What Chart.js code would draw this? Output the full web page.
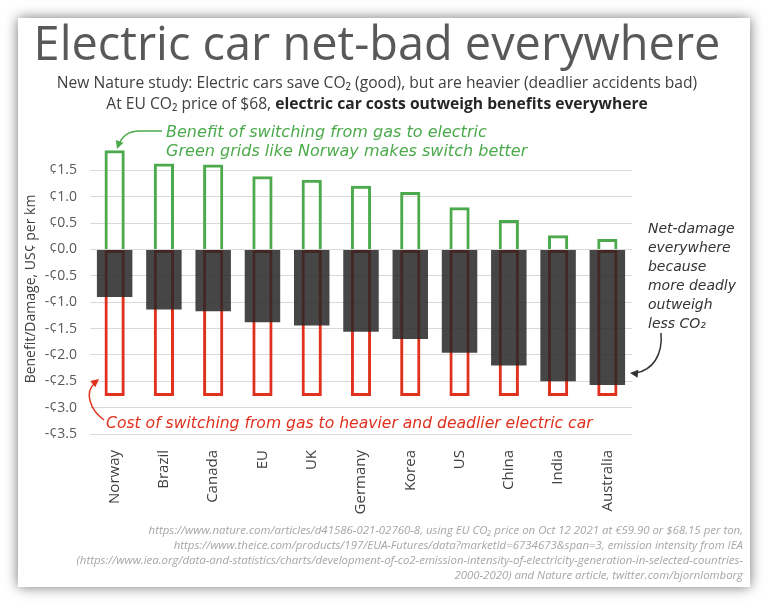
<!DOCTYPE html>
<html>
<head>
<meta charset="utf-8">
<script src="https://cdn.jsdelivr.net/npm/chart.js@4.4.1/dist/chart.umd.min.js"></script>
<style>
  html, body { margin: 0; padding: 0; background: #fff; }
</style>
</head>
<body>
<canvas id="chart" width="768" height="603"></canvas>
<script>
  // values, US cents per km
  var countries = ['Norway', 'Brazil', 'Canada', 'EU', 'UK', 'Germany', 'Korea', 'US', 'China', 'India', 'Australia'];
  var benefit = [1.88, 1.63, 1.61, 1.39, 1.32, 1.21, 1.09, 0.80, 0.56, 0.27, 0.20];
  var cost = [-2.78, -2.78, -2.78, -2.78, -2.78, -2.78, -2.78, -2.78, -2.78, -2.78, -2.78];
  var net = [-0.90, -1.14, -1.17, -1.38, -1.44, -1.56, -1.70, -1.96, -2.20, -2.50, -2.57];
  var yTickValues = [1.5, 1.0, 0.5, 0.0, -0.5, -1.0, -1.5, -2.0, -2.5, -3.0, -3.5];

  var titleText = 'Electric car net-bad everywhere';
  var subLine1 = 'New Nature study: Electric cars save CO\u2082 (good), but are heavier (deadlier accidents bad)';
  var subLine2a = 'At EU CO\u2082 price of $68, ';
  var subLine2b = 'electric car costs outweigh benefits everywhere';
  var greenNote = ['Benefit of switching from gas to electric', 'Green grids like Norway makes switch better'];
  var redNote = 'Cost of switching from gas to heavier and deadlier electric car';
  var netNote = ['Net-damage', 'everywhere', 'because', 'more deadly', 'outweigh', 'less CO\u2082'];
  var footer = [
    'https://www.nature.com/articles/d41586-021-02760-8, using EU CO\u2082 price on Oct 12 2021 at \u20ac59.90 or $68.15 per ton,',
    'https://www.theice.com/products/197/EUA-Futures/data?marketId=6734673&span=3, emission intensity from IEA',
    '(https://www.iea.org/data-and-statistics/charts/development-of-co2-emission-intensity-of-electricity-generation-in-selected-countries-',
    '2000-2020) and Nature article, twitter.com/bjornlomborg'
  ];

  var SANS = '"Open Sans", sans-serif';
  var HAND = '"DejaVu Sans", sans-serif';
  var GREEN = '#4caa4c';
  var RED = '#e0301e';

  function fitSize(ctx, text, style, family, width) {
    ctx.font = style + ' 100px ' + family;
    return 100 * width / ctx.measureText(text).width;
  }

  function arrowHead(ctx, x, y, angle, color) {
    ctx.save();
    ctx.translate(x, y);
    ctx.rotate(angle);
    ctx.beginPath();
    ctx.moveTo(0, 0);
    ctx.lineTo(-8, -4);
    ctx.lineTo(-8, 4);
    ctx.closePath();
    ctx.fillStyle = color;
    ctx.fill();
    ctx.restore();
  }

  var cardPlugin = {
    id: 'card',
    beforeDraw: function (chart) {
      var ctx = chart.ctx;
      ctx.save();
      ctx.fillStyle = '#ffffff';
      ctx.fillRect(0, 0, chart.width, chart.height);
      ctx.shadowColor = 'rgba(0, 0, 0, 0.55)';
      ctx.shadowBlur = 12;
      ctx.fillStyle = '#ffffff';
      ctx.fillRect(18, 18, 732, 569);
      ctx.restore();
    }
  };

  var textPlugin = {
    id: 'texts',
    afterDraw: function (chart) {
      var ctx = chart.ctx;
      var size;
      ctx.save();
      ctx.textBaseline = 'alphabetic';

      // title
      size = fitSize(ctx, titleText, 'normal', SANS, 687);
      ctx.font = size + 'px ' + SANS;
      ctx.fillStyle = '#595959';
      ctx.textAlign = 'center';
      ctx.fillText(titleText, 377, 60);

      // subtitle
      size = fitSize(ctx, subLine1, 'normal', SANS, 641);
      ctx.font = size + 'px ' + SANS;
      ctx.fillStyle = '#404040';
      ctx.fillText(subLine1, 377, 88);
      ctx.textAlign = 'left';
      var wa = ctx.measureText(subLine2a).width;
      ctx.font = 'bold ' + size + 'px ' + SANS;
      var wb = ctx.measureText(subLine2b).width;
      var x0 = 377 - (wa + wb) / 2;
      ctx.font = size + 'px ' + SANS;
      ctx.fillText(subLine2a, x0, 109);
      ctx.font = 'bold ' + size + 'px ' + SANS;
      ctx.fillStyle = '#262626';
      ctx.fillText(subLine2b, x0 + wa, 109);

      // green note + arrow
      size = fitSize(ctx, greenNote[0], 'italic', HAND, 321);
      ctx.font = 'italic ' + size + 'px ' + HAND;
      ctx.fillStyle = GREEN;
      ctx.fillText(greenNote[0], 166, 137);
      ctx.fillText(greenNote[1], 166, 156);
      ctx.strokeStyle = GREEN;
      ctx.lineWidth = 1.5;
      ctx.beginPath();
      ctx.moveTo(162, 131);
      ctx.lineTo(138, 131);
      ctx.quadraticCurveTo(123, 132, 119, 145);
      ctx.stroke();
      arrowHead(ctx, 117, 149, Math.atan2(17, -6), GREEN);

      // red note + arrow
      size = fitSize(ctx, redNote, 'italic', HAND, 487);
      ctx.font = 'italic ' + size + 'px ' + HAND;
      ctx.fillStyle = RED;
      ctx.fillText(redNote, 106, 428);
      ctx.strokeStyle = RED;
      ctx.beginPath();
      ctx.moveTo(104, 420);
      ctx.bezierCurveTo(90, 410, 84, 392, 95, 383);
      ctx.stroke();
      arrowHead(ctx, 99, 379, Math.atan2(-9, 11), RED);

      // net-damage note + arrow
      size = fitSize(ctx, netNote[3], 'italic', HAND, 88);
      ctx.font = 'italic ' + size + 'px ' + HAND;
      ctx.fillStyle = '#333333';
      netNote.forEach(function (line, i) {
        ctx.fillText(line, 648, 233 + i * 19);
      });
      ctx.strokeStyle = '#333333';
      ctx.beginPath();
      ctx.moveTo(661, 333);
      ctx.bezierCurveTo(663, 356, 652, 370, 636, 373);
      ctx.stroke();
      arrowHead(ctx, 630, 373, Math.PI + 0.1, '#333333');

      // source footer
      size = fitSize(ctx, footer[0], 'italic', SANS, 595);
      ctx.font = 'italic ' + size + 'px ' + SANS;
      ctx.fillStyle = '#a6a6a6';
      ctx.textAlign = 'right';
      footer.forEach(function (line, i) {
        ctx.fillText(line, 743, 534 + i * 15);
      });
      ctx.restore();
    }
  };

  function centLabel(value) {
    if (yTickValues.indexOf(value) === -1) {
      return '';
    }
    return (value < 0 ? '-\u00a2' : '\u00a2') + Math.abs(value).toFixed(1);
  }

  new Chart(document.getElementById('chart'), {
    type: 'bar',
    data: {
      labels: countries,
      datasets: [{
        label: 'Benefit',
        data: benefit,
        backgroundColor: 'rgba(255,255,255,0)',
        borderColor: GREEN,
        borderWidth: 3,
        borderSkipped: 'start',
        barPercentage: 0.41,
        categoryPercentage: 1,
        grouped: false,
        order: 2
      }, {
        label: 'Cost',
        data: cost,
        backgroundColor: 'rgba(255,255,255,0)',
        borderColor: RED,
        borderWidth: 3,
        borderSkipped: false,
        barPercentage: 0.41,
        categoryPercentage: 1,
        grouped: false,
        order: 1
      }, {
        label: 'Net',
        data: net,
        backgroundColor: 'rgba(38,38,38,0.85)',
        borderWidth: 0,
        barPercentage: 0.72,
        categoryPercentage: 1,
        grouped: false,
        order: 0
      }]
    },
    options: {
      responsive: false,
      animation: false,
      layout: { padding: { left: 20, right: 136, top: 144, bottom: 0 } },
      plugins: {
        legend: { display: false },
        tooltip: { enabled: false }
      },
      scales: {
        x: {
          grid: { display: false },
          border: { display: false },
          ticks: {
            minRotation: 90,
            maxRotation: 90,
            padding: 8,
            color: '#404040',
            font: { family: SANS, size: 15 }
          },
          afterFit: function (scale) { scale.height = 169; }
        },
        y: {
          min: -3.5,
          max: 2,
          ticks: {
            stepSize: 0.5,
            padding: 13,
            color: '#595959',
            font: { family: SANS, size: 14 },
            callback: centLabel
          },
          grid: {
            drawTicks: false,
            color: function (ctx) {
              return ctx.tick && ctx.tick.value === 2 ? 'rgba(0,0,0,0)' : '#d9d9d9';
            }
          },
          border: { display: false },
          title: {
            display: true,
            text: 'Benefit/Damage, US\u00a2 per km',
            color: '#404040',
            font: { family: SANS, size: 14 },
            padding: { top: 3, bottom: 3 }
          },
          afterFit: function (scale) { scale.width = 70; }
        }
      }
    },
    plugins: [cardPlugin, textPlugin]
  });
</script>
</body>
</html>
